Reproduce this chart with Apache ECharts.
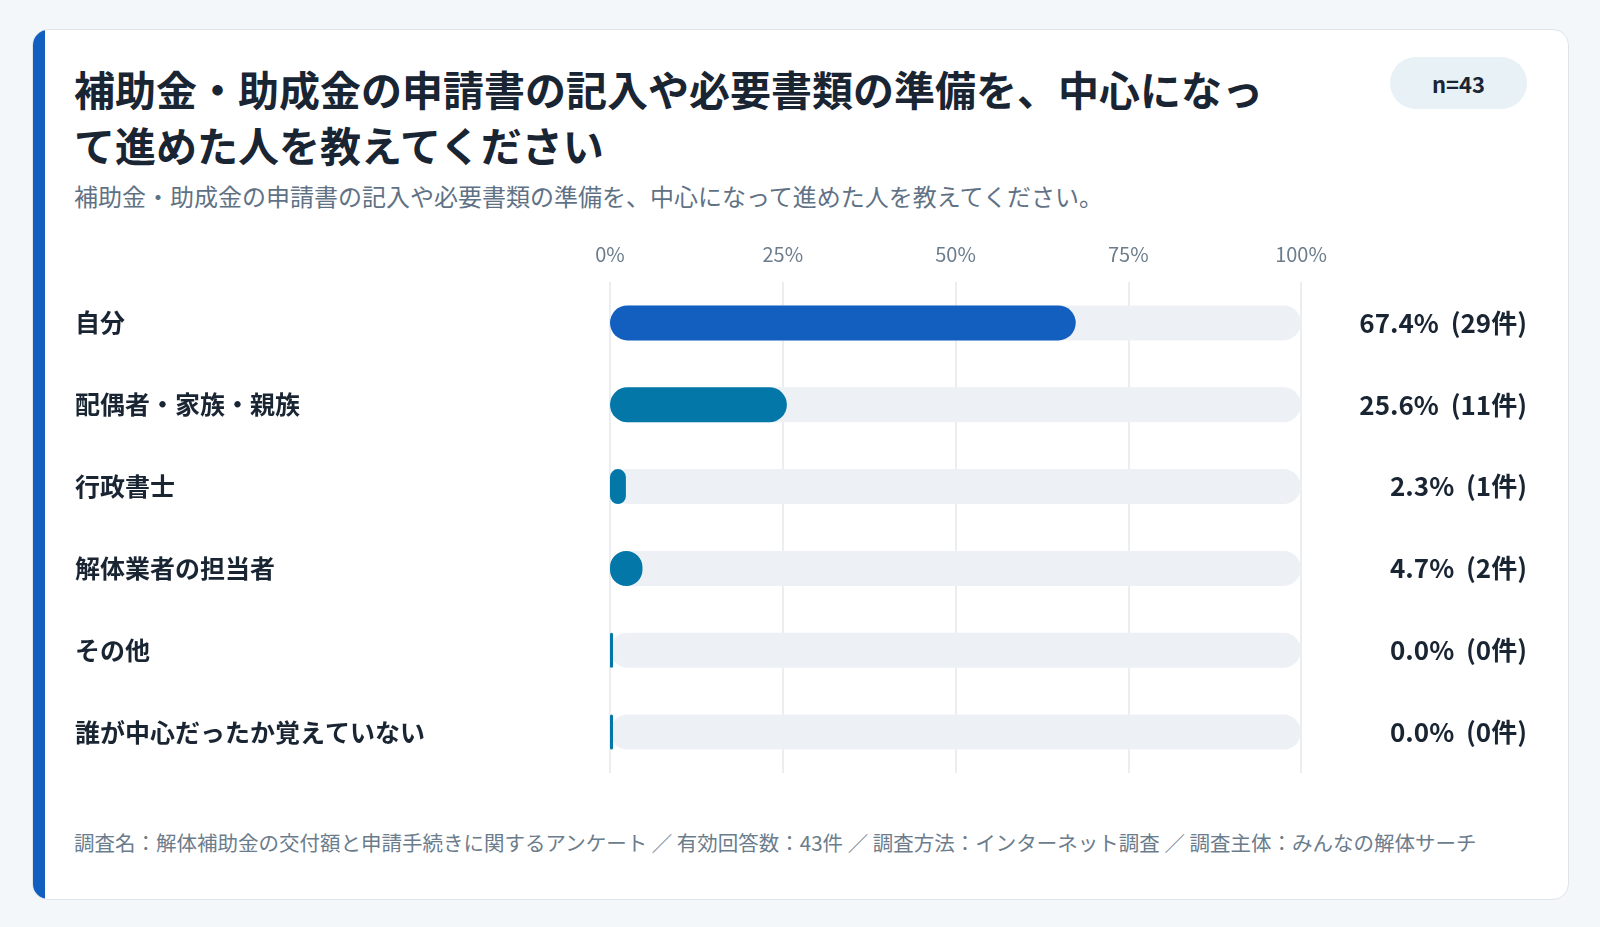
<!DOCTYPE html>
<html><head><meta charset="utf-8">
<script src="https://cdn.jsdelivr.net/npm/echarts@6/dist/echarts.min.js"></script>
<style>
body{margin:0;width:1600px;height:927px;background:#f4f7fa;font-family:"Noto Sans CJK JP","Noto Sans",sans-serif;position:relative;overflow:hidden}
.card{position:absolute;left:32px;top:29px;width:1535px;height:869px;background:#fff;border:1px solid #dde4ea;border-radius:16px;overflow:hidden}
.stripe{position:absolute;left:0;top:0;bottom:0;width:12px;background:#135fbf}
.title{position:absolute;left:41px;top:30px;width:1215px;font-size:41px;font-weight:700;line-height:56px;color:#1a2533;line-break:anywhere}
.sub{position:absolute;left:41px;top:148px;font-size:24px;color:#5f7285}
.badge{position:absolute;left:1357px;top:27px;width:137px;height:52px;border-radius:26px;background:#e8f1f6;font-size:22px;font-weight:700;color:#1a2533;text-align:center;line-height:52px}
.foot{position:absolute;left:41px;top:797px;width:1440px;font-size:20.5px;line-height:30px;color:#6b7c8c}
#chart{position:absolute;left:0;top:220px;width:1600px;height:580px}
</style></head><body>
<div class="card"><div class="stripe"></div>
<div class="title">補助金・助成金の申請書の記入や必要書類の準備を、中心になって進めた人を教えてください</div>
<div class="sub">補助金・助成金の申請書の記入や必要書類の準備を、中心になって進めた人を教えてください。</div>
<div class="badge">n=43</div>
<div class="foot">調査名：解体補助金の交付額と申請手続きに関するアンケート ／ 有効回答数：43件 ／ 調査方法：インターネット調査 ／ 調査主体：みんなの解体サーチ</div>
</div>
<div id="chart"></div>
<script>
var categories = ['自分','配偶者・家族・親族','行政書士','解体業者の担当者','その他','誰が中心だったか覚えていない'];
var percents = [67.4, 25.6, 2.3, 4.7, 0.0, 0.0];
var counts = [29, 11, 1, 2, 0, 0];
var tickLabels = ['0%','25%','50%','75%','100%'];

var valueLabels = percents.map(function (p, i) { return p.toFixed(1) + '%  (' + counts[i] + '件)'; });
var colors = ['#135fbf','#0277a8','#0277a8','#0277a8','#0277a8','#0277a8'];
var chart = echarts.init(document.getElementById('chart'));
chart.setOption({
  animation: false,
  grid: {left: 610, right: 299, top: 62, height: 491},
  xAxis: {type: 'value', min: 0, max: 100, interval: 25, position: 'top',
    axisLine: {show: false}, axisTick: {show: false},
    axisLabel: {margin: 18, fontSize: 20, color: '#6b7c8c', fontFamily: 'Noto Sans CJK JP',
      formatter: function (v) { return tickLabels[v / 25]; }},
    splitLine: {lineStyle: {color: '#e3e8ed', width: 1.5}}},
  yAxis: [
    {type: 'category', data: categories, inverse: true,
      axisLine: {show: false}, axisTick: {show: false},
      axisLabel: {align: 'left', margin: 535, fontSize: 25, fontWeight: 'bold', color: '#1a2533', fontFamily: 'Noto Sans CJK JP'}},
    {type: 'category', data: valueLabels, inverse: true, position: 'right',
      axisLine: {show: false}, axisTick: {show: false},
      axisLabel: {align: 'right', margin: 226, fontSize: 26, fontWeight: 'bold', color: '#1a2533', fontFamily: 'Noto Sans CJK JP'}}
  ],
  series: [
    {type: 'bar', data: categories.map(function () { return 100; }), barWidth: 35, silent: true,
      itemStyle: {color: '#edf1f5', borderRadius: 17.5}, z: 1},
    {type: 'bar', data: percents.map(function (p, i) { return {value: p, itemStyle: {color: colors[i]}}; }),
      barWidth: 35, barGap: '-100%', barMinHeight: 3, itemStyle: {borderRadius: 17.5}, z: 2}
  ]
});
</script>
</body></html>
